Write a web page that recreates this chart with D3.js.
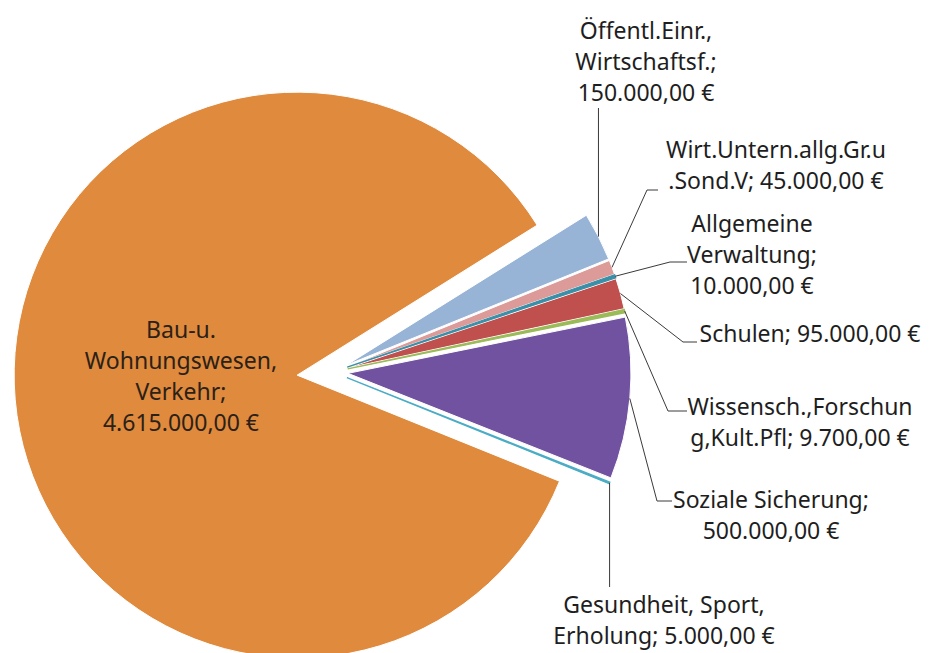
<!DOCTYPE html>
<html>
<head>
<meta charset="utf-8">
<script src="https://cdn.jsdelivr.net/npm/d3@7"></script>
<style>
  body { margin: 0; background: #fff; }
  text { font-family: 'Noto Sans', sans-serif; }
</style>
</head>
<body>
<div id="chart"></div>
<script>
// data, in the order the slices run clockwise from the gap
let categories = [
  'Öffentl.Einr., Wirtschaftsf.',
  'Wirt.Untern.allg.Gr.u.Sond.V',
  'Allgemeine Verwaltung',
  'Schulen',
  'Wissensch.,Forschung,Kult.Pfl',
  'Soziale Sicherung',
  'Gesundheit, Sport, Erholung',
  'Bau-u. Wohnungswesen, Verkehr'
]
let values = [150000, 45000, 10000, 95000, 9700, 500000, 5000, 4615000]
// label text as wrapped in the chart, {v} is the formatted value
let labelLines = [
  ['Öffentl.Einr.,', 'Wirtschaftsf.;', '{v}'],
  ['Wirt.Untern.allg.Gr.u', '.Sond.V; {v}'],
  ['Allgemeine', 'Verwaltung;', '{v}'],
  ['Schulen; {v}'],
  ['Wissensch.,Forschun', 'g,Kult.Pfl; {v}'],
  ['Soziale Sicherung;', '{v}'],
  ['Gesundheit, Sport,', 'Erholung; {v}'],
  ['Bau-u.', 'Wohnungswesen,', 'Verkehr;', '{v}']
]

let colors = ['#97b3d6', '#dc9a98', '#3a8fa8', '#c0504d', '#9bbb59', '#7152a0', '#4bacc6', '#df8a3d']
let explode = [15, 15, 15, 15, 15, 15, 15, 36]

// label placement: centre x, first baseline, leader points after the slice edge
let labelLayout = [
  { x: 646, y: 39, leader: [[null, 108]] },
  { x: 776, y: 158, leader: [[647, 190], [658, 190]] },
  { x: 752, y: 232, leader: [[670, 262], [687, 262]] },
  { x: 810, y: 342, leader: [[683, 342], [697, 342]] },
  { x: 800, y: 415, leader: [[668, 411], [687, 411]] },
  { x: 771, y: 508, leader: [[657, 501], [672, 501]] },
  { x: 664, y: 613, leader: [[null, 587]] },
  { x: 181, y: 338, leader: [] }
]

let width = 931
let height = 653
let cx = 333
let cy = 372
let radius = 283
let lineHeight = 31

let de = d3.formatLocale({ decimal: ',', thousands: '.', grouping: [3], currency: ['', ' €'] })
let fmt = de.format('$,.2f')

let svg = d3.select('#chart')
  .append('svg')
  .attr('width', width)
  .attr('height', height)

let pie = d3.pie()
  .sort(null)
  .value(d => d)
  .startAngle(58 * Math.PI / 180)
  .endAngle(418 * Math.PI / 180)

let arc = d3.arc().innerRadius(0).outerRadius(radius)
let arcs = pie(values)

let offset = (a, e) => {
  let mid = (a.startAngle + a.endAngle) / 2
  return [e * Math.sin(mid), -e * Math.cos(mid)]
}

let g = svg.append('g').attr('transform', 'translate(' + cx + ',' + cy + ')')

// big slice first so the thin ones sit on top
let order = d3.range(values.length).sort((a, b) => values[b] - values[a])

g.selectAll('path.slice')
  .data(order)
  .join('path')
  .attr('class', 'slice')
  .attr('transform', i => 'translate(' + offset(arcs[i], explode[i]) + ')')
  .attr('d', i => arc(arcs[i]))
  .attr('fill', i => colors[i])
  .attr('stroke', i => values[i] < 12000 ? colors[i] : '#fff')
  .attr('stroke-width', i => values[i] < 12000 ? 1.2 : 1)

// leader lines
let line = d3.line()
arcs.forEach((a, i) => {
  let lay = labelLayout[i]
  if (!lay.leader.length) return
  let [sx, sy] = offset(a, explode[i] + radius)
  sx += cx
  sy += cy
  let pts = [[sx, sy]].concat(lay.leader.map(p => [p[0] === null ? sx : p[0], p[1]]))
  svg.append('path')
    .attr('d', line(pts))
    .attr('fill', 'none')
    .attr('stroke', '#3a3a3a')
    .attr('stroke-width', 1)
})

// labels
labelLines.forEach((lines, i) => {
  let lay = labelLayout[i]
  let t = svg.append('text')
    .attr('text-anchor', 'middle')
    .attr('font-size', 23)
    .attr('fill', i === 7 ? '#2b2118' : '#1e1e1e')
  lines.forEach((s, k) => {
    t.append('tspan')
      .attr('x', lay.x)
      .attr('y', lay.y + k * lineHeight)
      .text(s.replace('{v}', fmt(values[i])))
  })
})
</script>
</body>
</html>
